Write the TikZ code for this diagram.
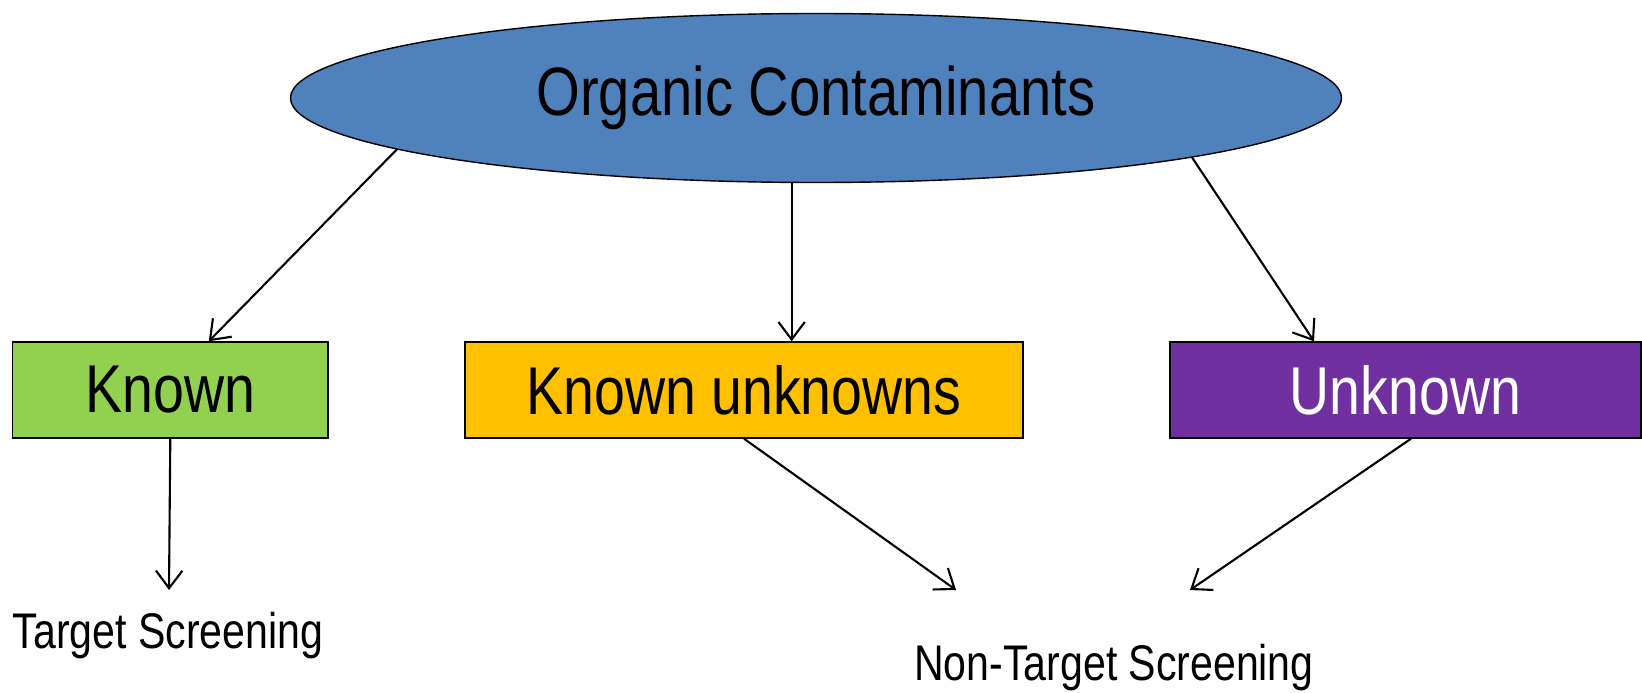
\documentclass[tikz,border=0pt]{standalone}
\usepackage{fontspec}
\setmainfont{Liberation Sans}[FakeStretch=0.82]
\usepackage{xcolor}
\usepackage{tikz}
\usetikzlibrary{arrows.meta,shapes.geometric,positioning}

\definecolor{orgblue}{HTML}{4F81BD}
\definecolor{knowngreen}{HTML}{92D050}
\definecolor{kuyellow}{HTML}{FFC000}
\definecolor{unkpurple}{HTML}{7030A0}

\begin{document}
\begin{tikzpicture}
	[box/.style={draw=black,line width=0.8pt,minimum height=1.92cm,inner sep=0pt,font=\fontsize{38.5}{40}\selectfont},
	conn/.style={line width=1.2pt,-{Straight Barb[length=10pt,width=15pt,line width=1.2pt]}},
	label/.style={inner sep=0pt}]
	\useasboundingbox (0,0) rectangle (32.84,-13.86);
	\node[ellipse,draw=black,line width=0.8pt,fill=orgblue,minimum width=21.02cm,minimum height=3.38cm,
		font=\fontsize{39}{41}\selectfont] (org) at (16.32,-1.96) {Organic Contaminants};
	\node[box,fill=knowngreen,minimum width=6.31cm] (known) at (3.406,-7.8) {Known};
	\node[box,fill=kuyellow,minimum width=11.16cm] (ku) at (14.88,-7.8) {Known unknowns};
	\node[box,fill=unkpurple,text=white,minimum width=9.42cm] (unk) at (28.11,-7.8) {Unknown};
	\node[label,font=\fontsize{28.5}{30}\selectfont] (ts) at (3.36,-12.72) {Target Screening};
	\node[label,font=\fontsize{28.5}{30}\selectfont] (nts) at (22.28,-13.36) {Non-Target Screening};
	% arrow ends above the screening labels
	\coordinate (tsin) at (3.38,-11.8);
	\coordinate (ntsl) at (19.12,-11.8);
	\coordinate (ntsr) at (23.8,-11.8);
	\draw[conn] (org.187.9) -- ([xshift=0.77cm]known.north);
	\draw[conn] (org.254.4) -- (ku.north -| org.254.4);
	\draw[conn] (org.351.4) -- ([xshift=-1.83cm]unk.north);
	\draw[conn] (known.south) -- (tsin);
	\draw[conn] (ku.south) -- (ntsl);
	\draw[conn] ([xshift=0.11cm]unk.south) -- (ntsr);
\end{tikzpicture}
\end{document}
